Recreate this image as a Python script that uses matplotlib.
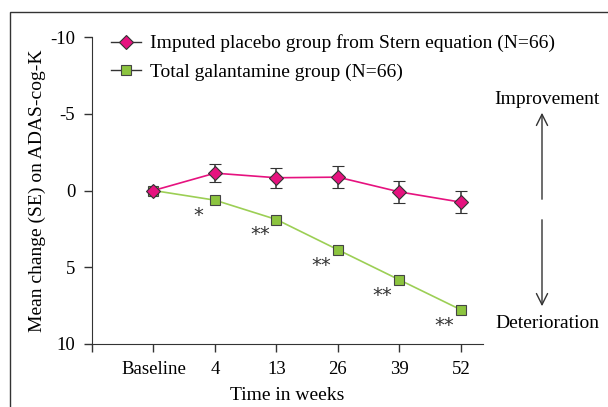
import matplotlib
matplotlib.use("Agg")
import matplotlib.pyplot as plt
from matplotlib.patches import Rectangle
from matplotlib.lines import Line2D
import numpy as np

# data
time_labels = ["Baseline", "4", "13", "26", "39", "52"]
placebo_mean = [0.0, -1.13, -0.83, -0.87, 0.09, 0.76]
placebo_se = [0.0, 0.59, 0.65, 0.72, 0.72, 0.70]
galant_mean = [0.0, 0.63, 1.89, 3.86, 5.82, 7.77]
signif = ["", "*", "**", "**", "**", "**"]

plt.rcParams['font.family'] = ['Liberation Serif', 'DejaVu Serif']

W, H = 608, 407
fig = plt.figure(figsize=(W / 100, H / 100), dpi=100)
ax = fig.add_axes([92 / W, 1 - 344 / H, 391 / W, 307 / H])

x = np.arange(1, len(time_labels) + 1)

pink = '#e6127f'
green = '#8cc43f'
dark = '#333333'

ax.errorbar(x, placebo_mean, yerr=placebo_se, color=pink, lw=1.2,
            ecolor=dark, elinewidth=1.1, capsize=4, capthick=1.1,
            marker='D', ms=7.5, mfc=pink, mec=dark, mew=0.8, zorder=3)
ax.plot(x, galant_mean, color='#9ccf55', lw=1.2,
        marker='s', ms=7, mfc=green, mec='#444444', mew=0.8, zorder=2)

for xi, yi, s in zip(x, galant_mean, signif):
    if s:
        ax.annotate(s, (xi, yi), xytext=(-12, -11), textcoords='offset points',
                    ha='center', va='center', fontsize=14, color=dark,
                    family='DejaVu Sans')

ax.set_xlim(0, 6.36)
ax.set_ylim(10, -10)
ax.set_xticks(np.arange(0, len(time_labels) + 1))
ax.set_xticklabels([""] + time_labels, fontsize=13.5)
ax.set_yticks([-10, -5, 0, 5, 10])
ax.set_yticklabels(["-10", "-5", "0", "5", "10"], fontsize=13.5)
ax.tick_params(direction='out', length=6, width=1, color=dark, pad=6)
for side in ['top', 'right']:
    ax.spines[side].set_visible(False)
for side in ['left', 'bottom']:
    ax.spines[side].set_color(dark)
ax.set_xlabel('Time in weeks', fontsize=14, labelpad=7)
ax.set_ylabel('Mean change (SE) on ADAS-cog-K', fontsize=14, labelpad=3)

handles = [
    Line2D([], [], color=dark, lw=1, marker='D', ms=7, mfc=pink, mec=dark, mew=0.8),
    Line2D([], [], color=dark, lw=1, marker='s', ms=6.5, mfc=green, mec='#444444', mew=0.8),
]
labels = ['Imputed placebo group from Stern equation (N=66)',
          'Total galantamine group (N=66)']
ax.legend(handles, labels, loc='upper left', bbox_to_anchor=(0.025, 1.04),
          frameon=False, fontsize=14, handlelength=1.5, handletextpad=0.5,
          labelspacing=0.55, borderpad=0)

# improvement / deterioration arrows
fig.text(547 / W, 1 - 99 / H, 'Improvement', ha='center', va='center', fontsize=14)
fig.text(547 / W, 1 - 323 / H, 'Deterioration', ha='center', va='center', fontsize=14)
arrow = dict(arrowstyle='->,head_width=0.4,head_length=0.8', color=dark, lw=1)
ax.annotate('', xy=(542 / W, 1 - 110 / H), xytext=(542 / W, 1 - 202 / H),
            xycoords='figure fraction', arrowprops=arrow)
ax.annotate('', xy=(542 / W, 1 - 309 / H), xytext=(542 / W, 1 - 217 / H),
            xycoords='figure fraction', arrowprops=arrow)

# figure frame
fig.patches.append(Rectangle((10 / W, -0.05), 1.1, 1 - 12 / H + 0.05,
                             transform=fig.transFigure, fill=False,
                             edgecolor=dark, lw=1))

fig.savefig('out.png', dpi=100)
